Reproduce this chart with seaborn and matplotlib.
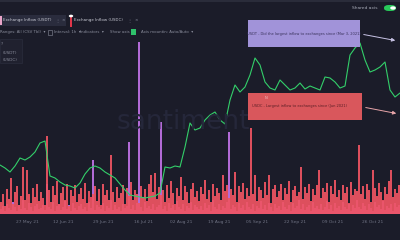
import numpy as np
import pandas as pd
import seaborn as sns
import matplotlib
matplotlib.use("Agg")
import matplotlib.pyplot as plt
from matplotlib.patches import FancyBboxPatch, Rectangle

# ---------------- data ----------------
usdt_inflow = [
    12, 20, 8, 25, 15, 36, 10, 22, 28, 9, 18, 47, 14, 44, 20, 11, 26, 17, 30, 13,
    22, 16, 9, 78, 24, 12, 28, 19, 33, 10, 21, 27, 14, 30, 8, 24, 18, 29, 12, 20,
    26, 15, 31, 11, 23, 17, 20, 28, 13, 25, 9, 30, 19, 24, 14, 59, 22, 12, 27, 16,
    21, 29, 10, 26, 18, 32, 14, 24, 20, 11, 28, 17, 25, 13, 30, 39, 22, 41, 15, 27,
    19, 24, 12, 29, 16, 33, 21, 10, 26, 18, 37, 14, 28, 22, 11, 25, 31, 17, 23, 13,
    27, 20, 34, 15, 24, 12, 30, 18, 26, 21, 14, 39, 23, 29, 16, 25, 19, 42, 12, 28,
    22, 31, 15, 26, 18, 86, 20, 39, 13, 27, 24, 16, 32, 19, 39, 11, 25, 29, 17, 23,
    30, 14, 26, 20, 33, 12, 24, 28, 18, 22, 47, 15, 27, 21, 30, 13, 25, 19, 29, 44,
    16, 26, 22, 31, 12, 28, 20, 34, 17, 24, 14, 29, 21, 27, 11, 32, 19, 25, 23, 69,
    20, 28, 15, 30, 24, 12, 44, 26, 18, 31, 22, 14, 27, 20, 33, 44, 17, 25, 21, 29,
]
usdc_inflow = [
    5, 8, 3, 10, 6, 4, 12, 7, 3, 9, 5, 14, 6, 4, 11, 7, 3, 8, 10, 5,
    6, 9, 4, 30, 7, 5, 12, 3, 8, 10, 4, 7, 13, 5, 9, 3, 11, 6, 4, 8,
    10, 5, 7, 3, 12, 6, 54, 4, 9, 7, 5, 11, 3, 8, 6, 14, 4, 9, 5, 7,
    3, 10, 6, 8, 72, 5, 9, 4, 11, 172, 7, 3, 12, 6, 8, 5, 10, 4, 7, 9,
    92, 5, 8, 3, 11, 6, 9, 4, 13, 7, 5, 10, 3, 8, 6, 12, 4, 9, 7, 5,
    8, 4, 11, 6, 9, 3, 14, 7, 5, 10, 4, 8, 6, 12, 82, 5, 9, 7, 3, 11,
    6, 9, 4, 12, 7, 5, 10, 3, 8, 6, 13, 5, 9, 4, 11, 7, 3, 10, 6, 8,
    4, 12, 7, 5, 9, 3, 11, 6, 8, 14, 5, 10, 4, 7, 9, 3, 12, 6, 8, 5,
    10, 4, 7, 13, 5, 9, 3, 11, 6, 8, 4, 12, 7, 5, 10, 3, 9, 6, 14, 7,
    5, 11, 8, 4, 10, 6, 3, 12, 7, 9, 5, 13, 4, 8, 6, 10, 3, 11, 7, 9,
]
btc_price = [
    39800, 39200, 38400, 39600, 41200, 40800, 41400, 42400, 44200, 44600,
    37600, 37200, 36400, 35800, 35600, 35200, 36200, 38000, 39200, 39600,
    39200, 38400, 37800, 37200, 36000, 34800, 33800, 33600, 33400, 33200,
    33400, 33600, 34200, 39400, 39200, 39600, 39400, 43400, 48200, 46800,
    47200, 48800, 49800, 50400, 48800, 48000, 52800, 55800, 54400, 55400,
    57800, 61200, 59800, 56400, 55200, 54800, 56800, 55800, 54800, 55200,
    56200, 55000, 55600, 55200, 54800, 57400, 57200, 56400, 55200, 55600,
    61800, 63200, 64200, 60800, 58400, 58800, 59400, 60400, 54800, 53400,
    54200,
]
tick_labels = ["27 May 21", "12 Jun 21", "29 Jun 21", "16 Jul 21", "02 Aug 21",
               "19 Aug 21", "05 Sep 21", "22 Sep 21", "09 Oct 21", "26 Oct 21"]
tick_positions = [13, 31, 51, 71, 90, 109, 128, 147, 166, 186]

BG = "#1b1c29"
RED = "#ef5462"
PURPLE = "#b26ad6"
GREEN = "#33cf6a"

sns.set_theme(style="dark")
plt.rcParams["font.family"] = ["DejaVu Sans"]

fig = plt.figure(figsize=(4, 2.4), dpi=100, facecolor=BG)
W, H = 400, 240

def fx(x):
    return x / W

def fy(y):
    return 1 - y / H

# ---------------- main chart ----------------
ax = fig.add_axes([0, 26 / H, 1, 199 / H])
ax.set_facecolor(BG)
n = len(usdt_inflow)
df = pd.DataFrame({"idx": np.arange(n), "usdt": usdt_inflow, "usdc": usdc_inflow})
sns.barplot(data=df, x="idx", y="usdc", native_scale=True, color=PURPLE,
            errorbar=None, width=1.0, ax=ax, saturation=1, linewidth=0)
sns.barplot(data=df, x="idx", y="usdt", native_scale=True, color=RED,
            errorbar=None, width=0.85, ax=ax, saturation=1, linewidth=0, alpha=0.92)
ax.set_xlim(-0.5, n - 0.5)
ax.set_ylim(0, 199)
ax.set_xticks(tick_positions)
ax.set_xticklabels(tick_labels)
ax.tick_params(axis="x", colors="#6f7283", labelsize=3.2, length=0, pad=4)
ax.set_yticks([])
ax.set_xlabel("")
ax.set_ylabel("")
ax.grid(False)
for s in ax.spines.values():
    s.set_visible(False)

ax2 = ax.twinx()
ax2.patch.set_visible(False)
line_df = pd.DataFrame({"x": np.linspace(-0.5, n - 0.5, len(btc_price)),
                        "price": btc_price})
sns.lineplot(data=line_df, x="x", y="price", color=GREEN, linewidth=0.8, ax=ax2)
ax2.set_ylim(30000, 69800)
ax2.set_yticks([])
ax2.set_ylabel("")
ax2.grid(False)
for s in ax2.spines.values():
    s.set_visible(False)

# watermark
fig.text(fx(183), fy(122), "santiment", fontsize=19, color="#25273a",
         ha="center", va="center", zorder=0)

# ---------------- annotations ----------------
fig.patches.append(Rectangle((fx(248), fy(47)), fx(112), 27 / H,
                             transform=fig.transFigure, facecolor="#a193d9",
                             edgecolor="none", zorder=5))
fig.text(fx(304), fy(33.5), "USDT - Did the largest inflow to exchanges since (Mar 3, 2021)",
         fontsize=2.6, color="#3a335c", ha="center", va="center", zorder=6)
fig.patches.append(Rectangle((fx(248), fy(120)), fx(114), 27 / H,
                             transform=fig.transFigure, facecolor="#d9575c",
                             edgecolor="none", zorder=5))
fig.text(fx(300), fy(106.5), "USDC - Largest inflow to exchanges since (Jun 2021)",
         fontsize=2.6, color="#5a1f25", ha="center", va="center", zorder=6)
fig.text(fx(266), fy(98), "N", fontsize=2.6, color="#f2c2c4", ha="center", va="center", zorder=6)

ax.annotate("", xy=(fx(398), fy(41)), xytext=(fx(361), fy(34)),
            xycoords="figure fraction", textcoords="figure fraction",
            arrowprops=dict(arrowstyle="-|>", color="#c9c4e6", lw=0.7,
                            mutation_scale=5), zorder=7)
ax.annotate("", xy=(fx(399), fy(114)), xytext=(fx(363), fy(107)),
            xycoords="figure fraction", textcoords="figure fraction",
            arrowprops=dict(arrowstyle="-|>", color="#e8a5a9", lw=0.7,
                            mutation_scale=5), zorder=7)

# ---------------- UI header ----------------
fig.patches.append(Rectangle((0, fy(2)), 1, 2 / H, transform=fig.transFigure,
                             facecolor="#2a2c3a", edgecolor="none", zorder=4))
fig.patches.append(Rectangle((0, fy(13)), 1, 30 / H, transform=fig.transFigure,
                             facecolor=BG, edgecolor="none", zorder=3))
fig.text(fx(378), fy(8), "Shared axis", fontsize=3.2, color="#a7aab7",
         ha="right", va="center", zorder=6)
fig.patches.append(FancyBboxPatch((fx(384), fy(11)), fx(12), 6 / H,
                                  boxstyle="round,pad=0,rounding_size=0.012",
                                  transform=fig.transFigure, facecolor="#28c95a",
                                  edgecolor="none", zorder=6))
fig.patches.append(plt.Circle((fx(393), fy(8)), 0.007, transform=fig.transFigure,
                              facecolor="white", edgecolor="none", zorder=7))

# tabs
fig.patches.append(Rectangle((0, fy(26)), fx(66), 11 / H, transform=fig.transFigure,
                             facecolor="#2a2c3d", edgecolor="none", zorder=4))
fig.patches.append(Rectangle((0, fy(25)), fx(1.5), 9 / H, transform=fig.transFigure,
                             facecolor="#e9a4c8", edgecolor="none", zorder=5))
fig.text(fx(3), fy(20.5), "Exchange Inflow (USDT)", fontsize=2.9, color="#c8cad4",
         ha="left", va="center", zorder=6)
fig.text(fx(55), fy(20.5), "\u22ee", fontsize=3.0, color="#8d90a0",
         ha="left", va="center", zorder=6)
fig.text(fx(61), fy(20.5), "\u00d7", fontsize=3.0, color="#8d90a0",
         ha="left", va="center", zorder=6)
fig.patches.append(Rectangle((fx(70.3), fy(27)), fx(1.3), 10 / H, transform=fig.transFigure,
                             facecolor="#e0364a", edgecolor="none", zorder=5))
fig.patches.append(plt.Circle((fx(71), fy(16)), 0.0055, transform=fig.transFigure,
                              facecolor="white", edgecolor="none", zorder=6))
fig.text(fx(74), fy(20.5), "Exchange Inflow (USDC)", fontsize=2.9, color="#c8cad4",
         ha="left", va="center", zorder=6)
fig.text(fx(127), fy(20.5), "\u22ee", fontsize=3.0, color="#8d90a0",
         ha="left", va="center", zorder=6)
fig.text(fx(134), fy(20.5), "\u00d7", fontsize=3.0, color="#8d90a0",
         ha="left", va="center", zorder=6)

# second row
row_items = [(0, "Ranges: All (CSV Tbl)  \u25be"), (54, "Interval: 1h  \u25be"),
             (80, "Indicators  \u25be"), (110, "Show axis"),
             (141, "Axis mountin: Auto/Auto  \u25be")]
for x0, t in row_items:
    fig.text(fx(x0), fy(32), t, fontsize=2.8, color="#8a8d9c", ha="left",
             va="center", zorder=6)
fig.patches.append(Rectangle((fx(48), fy(34.5)), fx(4), 4.5 / H, transform=fig.transFigure,
                             facecolor="none", edgecolor="#8a8d9c", lw=0.4, zorder=6))
fig.patches.append(Rectangle((fx(131), fy(35)), fx(5), 5.5 / H, transform=fig.transFigure,
                             facecolor="#2fc16b", edgecolor="none", zorder=6))

# legend box
fig.patches.append(Rectangle((0, fy(63)), fx(22), 24 / H, transform=fig.transFigure,
                             facecolor="#20212f", edgecolor="#2e3040", lw=0.4, zorder=6))
fig.text(fx(1), fy(44), "?", fontsize=3.0, color="#8a8d9c", ha="left", va="center", zorder=7)
fig.text(fx(3), fy(53), "(USDT)", fontsize=3.0, color="#8a8d9c", ha="left", va="center", zorder=7)
fig.text(fx(3), fy(60), "(USDC)", fontsize=3.0, color="#8a8d9c", ha="left", va="center", zorder=7)

fig.savefig("out.png", dpi=100, facecolor=BG)
